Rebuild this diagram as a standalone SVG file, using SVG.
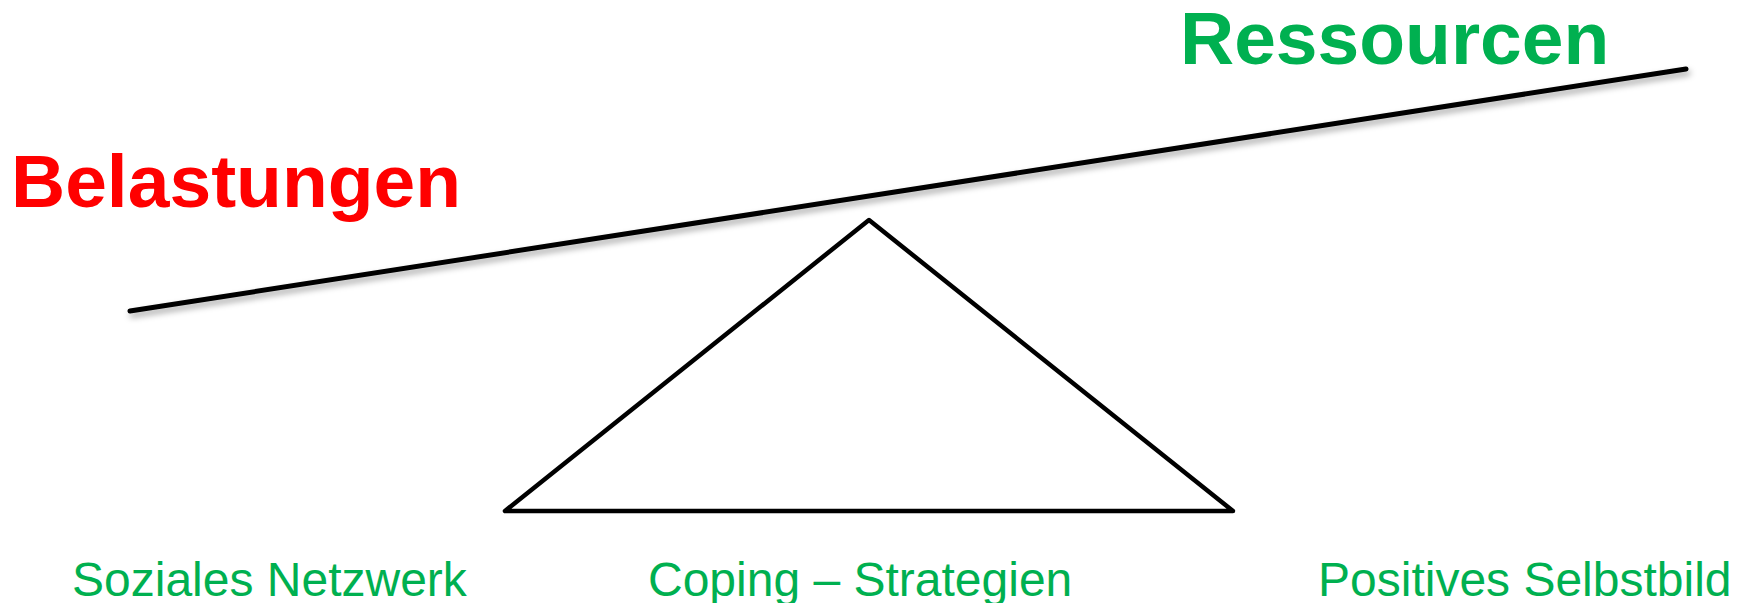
<svg xmlns="http://www.w3.org/2000/svg" width="1752" height="603" viewBox="0 0 1752 603">
  <style>
    .title { font-family: "Liberation Sans", Arial, sans-serif; font-weight: bold; font-size: 75px; }
    .label { font-family: "Liberation Sans", Arial, sans-serif; font-size: 48px; fill: #00B050; }
    .line { fill: none; stroke: #000000; stroke-linecap: round; stroke-linejoin: round; }
  </style>
  <defs>
    <filter id="shadow" x="-5%" y="-20%" width="110%" height="160%">
      <feDropShadow dx="2" dy="4" stdDeviation="3" flood-color="#000000" flood-opacity="0.35"/>
    </filter>
  </defs>
  <rect width="1752" height="603" fill="#ffffff"/>
  <g id="connectors">
    <line id="beam" class="line" x1="130" y1="311" x2="1686" y2="69" stroke-width="5" filter="url(#shadow)"/>
    <polygon id="fulcrum" class="line" points="869,220 505,511 1233,511" stroke-width="4.5"/>
  </g>
  <g id="belastungen">
    <text class="title" x="11" y="207" fill="#FF0000">Belastungen</text>
  </g>
  <g id="ressourcen">
    <text class="title" x="1180" y="64" fill="#00B050">Ressourcen</text>
  </g>
  <g id="soziales-netzwerk">
    <text class="label" x="72" y="596">Soziales Netzwerk</text>
  </g>
  <g id="coping-strategien">
    <text class="label" x="648" y="596">Coping – Strategien</text>
  </g>
  <g id="positives-selbstbild">
    <text class="label" x="1318" y="596">Positives Selbstbild</text>
  </g>
</svg>
